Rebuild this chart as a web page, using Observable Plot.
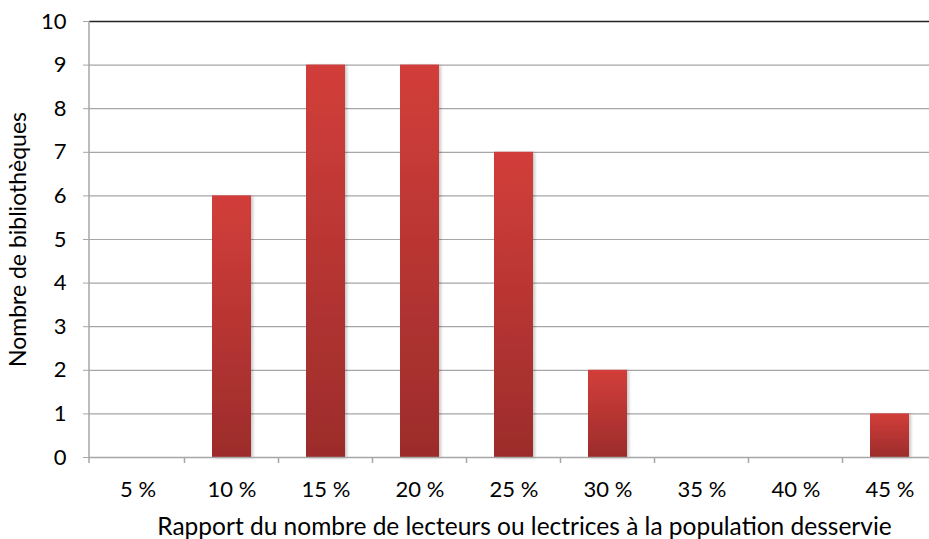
<!DOCTYPE html>
<html><head><meta charset="utf-8">
<script src="https://cdn.jsdelivr.net/npm/d3@7"></script>
<script src="https://cdn.jsdelivr.net/npm/@observablehq/plot@0.6"></script>
<style>body{margin:0;background:#fff}</style>
</head><body><div id="chart"></div>
<script>
const categories = ["5 %","10 %","15 %","20 %","25 %","30 %","35 %","40 %","45 %"];
const counts = [0,6,9,9,7,2,0,0,1];
const yTicks = [0,1,2,3,4,5,6,7,8,9,10];
const xTitle = "Rapport du nombre de lecteurs ou lectrices à la population desservie";
const yTitle = "Nombre de bibliothèques";

const data = categories.map((c,i)=>({cat:c, n:counts[i]}));

const plot = Plot.plot({
  width: 929, height: 539,
  marginLeft: 89, marginTop: 21, marginBottom: 82, marginRight: 0,
  style: {fontFamily: "Lato, sans-serif", background: "#fff", overflow: "visible"},
  x: {domain: categories, range: [89, 939], paddingInner: 0.585, paddingOuter: 0.2925, label: null},
  y: {domain: [0,10], ticks: yTicks, label: null},
  marks: [
    Plot.ruleY(yTicks.slice(1, -1), {stroke: "#a6a6a6", strokeWidth: 1.2}),
    Plot.ruleY([10], {stroke: "#222", strokeWidth: 1.3}),
    Plot.barY(data, {x: "cat", y: "n", fill: "url(#barGrad)", filter: d => d.n > 0}),
    Plot.ruleY([0], {stroke: "#a6a6a6", strokeWidth: 1.5}),
    Plot.axisY({ticks: yTicks, tickSize: 6, tickPadding: 17, stroke: "#a6a6a6", fontSize: 22,
      label: yTitle, labelAnchor: "center", labelOffset: 80, labelArrow: "none"}),
    Plot.axisX({tickSize: 0, tickPadding: 24, fontSize: 22,
      label: xTitle, labelAnchor: "center", labelOffset: 77, labelArrow: "none"})
  ]
});

const svg = d3.select(plot);
svg.selectAll("text").style("font-family", "Lato, sans-serif").style("fill", "#000");
svg.selectAll("g").filter(function(){ return /tick label/.test(this.getAttribute("aria-label")||""); })
  .style("font-size", "22px").selectAll("text").style("font-size", "22px");
svg.selectAll("g").filter(function(){ return /x-axis label/.test(this.getAttribute("aria-label")||""); })
  .style("font-size", "25px").selectAll("text").style("font-size", "24.5px").attr("dx", 15);
svg.selectAll("g").filter(function(){ return /y-axis label/.test(this.getAttribute("aria-label")||""); })
  .style("font-size", "23px").selectAll("text").style("font-size", "23px");

const defs = svg.insert("defs", ":first-child");
const g = defs.append("linearGradient").attr("id","barGrad").attr("x1",0).attr("y1",0).attr("x2",0).attr("y2",1);
g.append("stop").attr("offset","0%").attr("stop-color","#d23e3a");
g.append("stop").attr("offset","100%").attr("stop-color","#9c2c2b");
const f = defs.append("filter").attr("id","barShadow").attr("x","-20%").attr("y","-5%").attr("width","150%").attr("height","115%");
f.append("feDropShadow").attr("dx",2).attr("dy",1).attr("stdDeviation",1.5).attr("flood-color","#000").attr("flood-opacity",0.22);
svg.selectAll('g[aria-label="bar"] rect').attr("filter","url(#barShadow)");

// left axis line and category boundary ticks, positioned from Plot's scales
const xs = plot.scale("x"), ys = plot.scale("y");
const y0 = ys.apply(0), y10 = ys.apply(10);
const gridG = svg.append("g");
gridG.append("line").attr("x1",xs.range[0]).attr("x2",xs.range[0]).attr("y1",y10).attr("y2",y0+6)
  .attr("stroke","#a6a6a6").attr("stroke-width",1.5);
categories.forEach((c,i)=>{
  if (i === 0) return;
  const x = xs.apply(c) + xs.bandwidth/2 - xs.step/2;
  gridG.append("line").attr("x1",x).attr("x2",x).attr("y1",y0).attr("y2",y0+6)
    .attr("stroke","#a6a6a6").attr("stroke-width",1.5);
});
document.getElementById("chart").appendChild(plot);
</script>
</body></html>
